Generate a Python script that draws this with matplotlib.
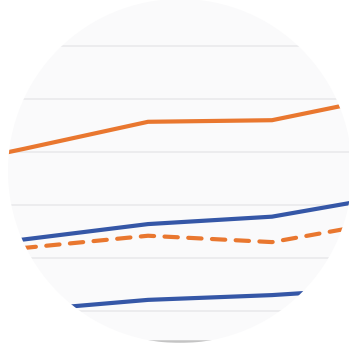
import matplotlib
matplotlib.use("Agg")
import matplotlib.pyplot as plt
from matplotlib.patches import Circle

# Data (category index positions 0..4)
periods = [0, 1, 2, 3, 4]
orange_solid = [35.7, 40.6, 45.7, 46.0, 50.8]
blue_upper = [20.6, 23.5, 26.4, 27.8, 31.9]
orange_dashed = [19.5, 21.9, 24.2, 23.0, 27.2]
blue_lower = [8.2, 10.1, 12.1, 13.0, 14.5]
grid_values = [10, 20, 30, 40, 50, 60]
baseline_value = [4.25]

ORANGE = "#e9772f"
BLUE = "#3557a7"

fig = plt.figure(figsize=(3.49, 3.49), dpi=100)
fig.patch.set_facecolor("white")

circ = Circle((180 / 349, 178 / 349), 172 / 349, transform=fig.transFigure,
              facecolor="#fafafb", edgecolor="none", zorder=-5)
fig.patches.append(circ)
clip = Circle((180 / 349, 178 / 349), 172 / 349, transform=fig.transFigure,
              facecolor="none", edgecolor="none")

ax = fig.add_axes([0, 0, 1, 1])
ax.set_zorder(2)
ax.set_facecolor("none")
ax.patch.set_visible(False)

ax.set_xlim(0.806, 3.621)
ax.set_ylim(2.83, 68.68)
ax.set_yticks(grid_values)
ax.grid(axis="y", color="#e9e9eb", linewidth=1.1)
ax.tick_params(left=False, bottom=False, labelleft=False, labelbottom=False)
for s in ax.spines.values():
    s.set_visible(False)
for gl in ax.get_ygridlines():
    gl.set_clip_path(clip)

lines = []
lines += ax.plot(periods, orange_solid, color=ORANGE, lw=3.0, solid_capstyle="butt")
lines += ax.plot(periods, blue_upper, color=BLUE, lw=3.0, solid_capstyle="butt")
lines += ax.plot(periods, orange_dashed, color=ORANGE, lw=3.0, dashes=(3.2, 2.5),
                 dash_capstyle="round")
lines += ax.plot(periods, blue_lower, color=BLUE, lw=3.0, solid_capstyle="butt")
for b in baseline_value:
    lines.append(ax.axhline(b, color="#c4c4c4", lw=1.8))
for ln in lines:
    ln.set_clip_path(clip)

fig.savefig("out.png", dpi=100, facecolor="white")
